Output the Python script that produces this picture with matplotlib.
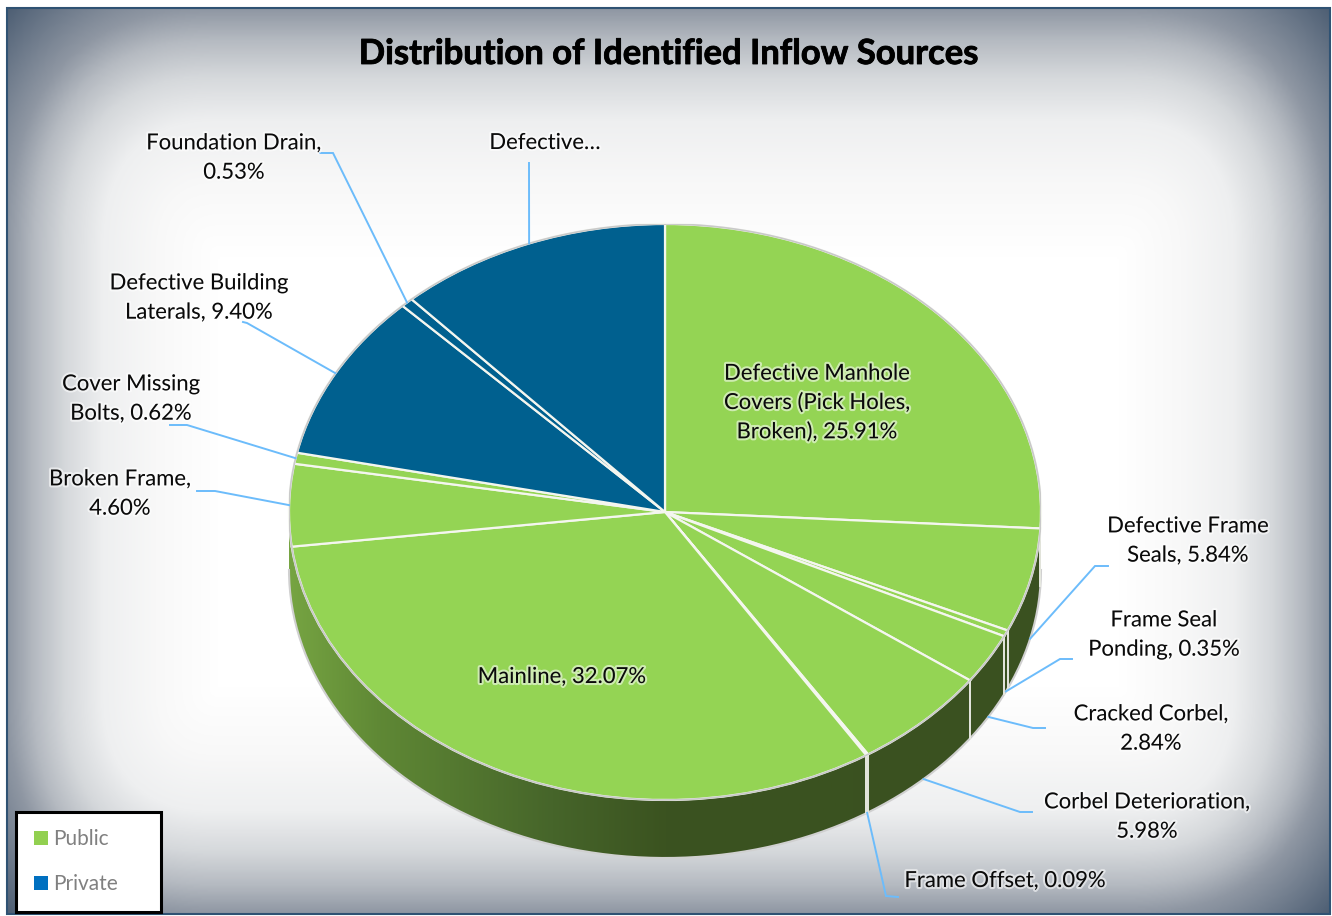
import numpy as np
import matplotlib
matplotlib.use('Agg')
import matplotlib.pyplot as plt
import matplotlib.patheffects as pe
from matplotlib.colors import LinearSegmentedColormap
from matplotlib.patches import Patch, Polygon, Rectangle

plt.rcParams['font.family'] = ['Lato', 'DejaVu Sans']

# data, clockwise from 12 o'clock
values = [25.91, 5.84, 0.35, 2.84, 5.98, 0.09, 32.07, 4.60, 0.62, 9.40, 0.53, 11.77]
groups = ['Public', 'Public', 'Public', 'Public', 'Public', 'Public', 'Public',
          'Public', 'Public', 'Private', 'Private', 'Private']
labels = ['Defective Manhole\nCovers (Pick Holes,\nBroken), 25.91%',
          'Defective Frame\nSeals, 5.84%',
          'Frame Seal\nPonding, 0.35%',
          'Cracked Corbel,\n2.84%',
          'Corbel Deterioration,\n5.98%',
          'Frame Offset, 0.09%',
          'Mainline, 32.07%',
          'Broken Frame,\n4.60%',
          'Cover Missing\nBolts, 0.62%',
          'Defective Building\nLaterals, 9.40%',
          'Foundation Drain,\n0.53%',
          'Defective…']
title = 'Distribution of Identified Inflow Sources'

# layout in image pixels
W, H = 1332, 916
cx, cy, rx, ry, depth = 665, 512, 376, 288, 58
label_pos = [(817, 403), (1188, 541), (1164, 635), (1151, 729), (1147, 817),
             (1005, 881), (562, 677), (120, 494), (131, 399), (199, 298),
             (234, 158), (545, 143)]
# elbow + end of each leader line, None for labels sitting on the slice
leaders = [None, [(1095, 566), (1108, 566)], [(1060, 659), (1072, 659)],
           [(1033, 728), (1045, 728)], [(1020, 812), (1032, 812)],
           [(886, 896), (898, 897)], None, [(215, 491), (197, 491)],
           [(187, 425), (170, 425)], [(247, 323), (243, 322)],
           [(333, 153), (320, 153)], [(529, 163)]]

colors = {'Public': '#94d454', 'Private': '#00608f'}
leader_col = '#6cbcfb'
glow = [pe.withStroke(linewidth=3, foreground='white', alpha=0.55)]

fig = plt.figure(figsize=(W / 100, H / 100), dpi=100, facecolor='white')


def px_axes(left, top, right, bottom, **kw):
    return fig.add_axes([left / W, 1 - bottom / H, (right - left) / W, (bottom - top) / H], **kw)


# background vignette, falls off further from the top than from the sides
ax_bg = px_axes(0, 0, W, H, zorder=0)
ax_bg.axis('off')
fx0, fy0, fx1, fy1 = 7, 8, 1330, 914
xx, yy = np.meshgrid(np.linspace(-1, 1, 660), np.linspace(-1, 1, 450))
u = np.clip((np.abs(xx) - 0.68) / 0.32, 0, None)
v = np.where(yy < 0, np.clip((-yy - 0.45) / 0.55, 0, None), np.clip((yy - 0.5) / 0.5, 0, None))
r = (u ** 2.5 + v ** 2.5) ** (1 / 2.5)
bg_cmap = LinearSegmentedColormap.from_list(
    'bg', [(0, '#ffffff'), (0.227, '#f8f8f8'), (0.417, '#eeeff0'), (0.553, '#d5d8db'),
           (0.663, '#b5bac1'), (0.758, '#8f97a3'), (1, '#4e5f74')])
ax_bg.imshow(r, cmap=bg_cmap, vmin=0, vmax=1.32, extent=(fx0, fx1, fy1, fy0),
             aspect='auto', interpolation='bilinear')
ax_bg.add_patch(Rectangle((fx0, fy0), fx1 - fx0, fy1 - fy0, fill=False, ec='#2f5273', lw=1.5))
ax_bg.set_xlim(0, W)
ax_bg.set_ylim(H, 0)

# pie, stretched to an ellipse by the axes box
ax = px_axes(cx - rx, cy - ry, cx + rx, cy + ry + depth + 4, zorder=1)
ax.patch.set_alpha(0)
wedge_cols = [colors[g] for g in groups]
wedges, _ = ax.pie(values, colors=wedge_cols, startangle=90, counterclock=False, radius=1,
                   wedgeprops=dict(edgecolor='#f4f6ef', linewidth=1.6, zorder=3))
ylow = -(ry + depth + 4) / ry
ax.set_aspect('auto')
ax.set_xlim(-1, 1)
ax.set_ylim(ylow, 1)
d = depth / ry

# side wall
th = np.radians(np.linspace(90, 270, 200))
top_x, top_y = np.sin(th), np.cos(th)
wall_xy = np.r_[np.c_[top_x, top_y], np.c_[top_x[::-1], top_y[::-1] - d]]
wall = Polygon(wall_xy, closed=True, fc='none', ec='none')
ax.add_patch(wall)
wall_cmap = LinearSegmentedColormap.from_list(
    'wall', [(0, '#76a442'), (0.12, '#5f8835'), (0.35, '#46652a'), (0.5, '#3b5320'), (1, '#3a5120')])
grad = ax.imshow(np.linspace(0, 1, 256).reshape(1, -1), cmap=wall_cmap, extent=(-1, 1, ylow, 1),
                 aspect='auto', zorder=1)
grad.set_clip_path(wall)
ax.set_xlim(-1, 1)
ax.set_ylim(ylow, 1)
ax.plot(top_x, top_y - d, color='#d0d0d0', lw=1.5, zorder=2, clip_on=False)

# wall seams where a slice boundary falls on the front
cum = np.cumsum(values)
for c in cum[:-1]:
    a = np.radians(c * 3.6)
    if 90 < c * 3.6 < 270 and np.sin(a) > -0.97:
        ax.plot([np.sin(a)] * 2, [np.cos(a), np.cos(a) - d], color='#e6e8e0', lw=1.4, zorder=2)
rim = np.radians(np.linspace(0, 360, 400))
ax.plot(np.sin(rim), np.cos(rim), color='#c9c9c9', lw=1.2, zorder=4)

# labels and leaders on top
top = px_axes(0, 0, W, H, zorder=2)
top.set_xlim(0, W)
top.set_ylim(H, 0)
top.axis('off')
mids = cum - np.array(values) / 2
for val_mid, pos, txt, lead in zip(mids, label_pos, labels, leaders):
    if lead is not None:
        a = np.radians(val_mid * 3.6)
        px = cx + rx * np.sin(a)
        py = cy - ry * np.cos(a)
        if np.cos(a) < 0 and 90 < val_mid * 3.6 < 250:
            py += depth
        pts = [(px, py)] + lead
        top.plot([p[0] for p in pts], [p[1] for p in pts], color=leader_col, lw=1.4,
                 solid_joinstyle='miter')
    top.text(pos[0], pos[1], txt, ha='center', va='center', fontsize=15.9, color='#0a0a0a',
             linespacing=1.58, path_effects=glow)
top.text(669, 54, title, ha='center', va='center', fontsize=24.9, fontweight='bold', color='black',
         path_effects=[pe.withStroke(linewidth=0.6, foreground='black')])

# legend box
handles = [Patch(fc='#92d050', ec='none'), Patch(fc='#0070c0', ec='none')]
leg = top.legend(handles, ['Public', 'Private'], loc='lower left',
                 bbox_to_anchor=(16 / W, 1 - 912 / H, 145 / W, 100 / H), mode='expand',
                 fontsize=15, labelcolor='#808080', fancybox=False, framealpha=1,
                 edgecolor='black', handlelength=0.7, handleheight=0.7, handletextpad=0.25,
                 labelspacing=1.2, borderpad=0.85, borderaxespad=0)
leg.get_frame().set_linewidth(2.2)

fig.savefig('out.png', dpi=100)
